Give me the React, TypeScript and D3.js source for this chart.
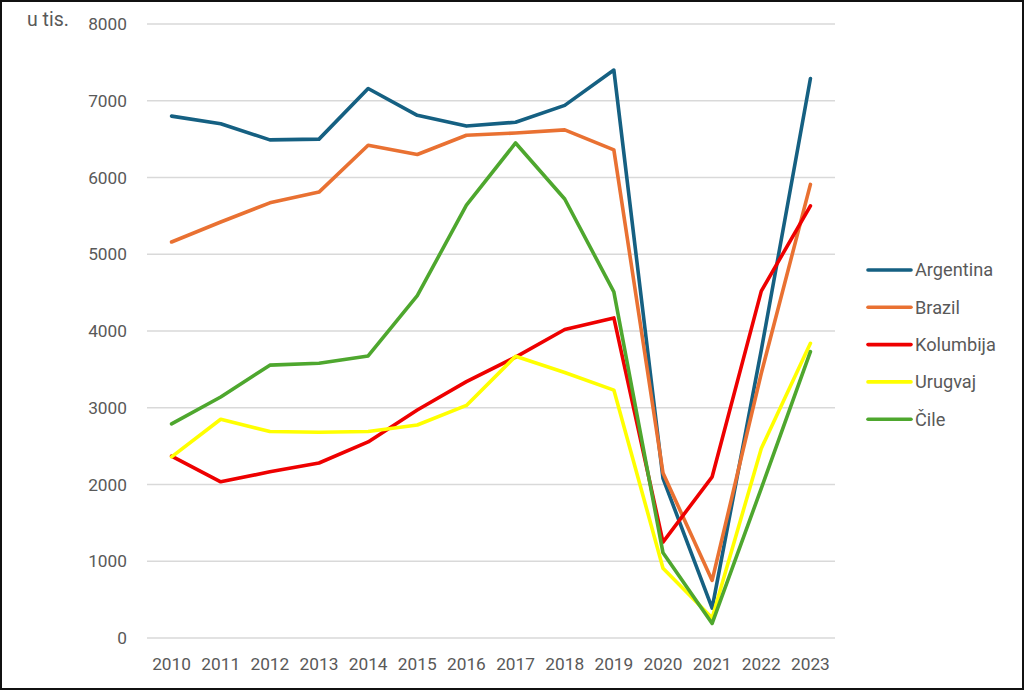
import React from "react";
import * as d3 from "d3";

const years = ["2010","2011","2012","2013","2014","2015","2016","2017","2018","2019","2020","2021","2022","2023"];
const seriesNames = ["Argentina","Brazil","Kolumbija","Urugvaj","Čile"];
const seriesColors = ["#156082","#E97132","#EE0000","#FFFF00","#4EA72E"];
const argentina = [6800,6700,6490,6500,7160,6810,6670,6720,6940,7400,2080,390,3750,7290];
const brazil = [5160,5420,5670,5810,6420,6300,6550,6580,6620,6360,2150,750,3450,5910];
const kolumbija = [2370,2035,2165,2280,2555,2970,3340,3660,4020,4170,1250,2100,4520,5630];
const urugvaj = [2360,2850,2690,2680,2690,2775,3030,3670,3460,3230,910,260,2470,3840];
const cile = [2790,3140,3555,3580,3675,4460,5640,6450,5720,4510,1110,190,1950,3730];
const yTicks = [0,1000,2000,3000,4000,5000,6000,7000,8000];
const allSeries = [argentina, brazil, kolumbija, urugvaj, cile];

export default function App() {
  const W = 1024, H = 690;
  const left = 147, right = 835, top = 24, bottom = 638;
  const x = d3.scaleBand<string>().domain(years).range([left, right]);
  const y = d3.scaleLinear().domain([0, 8000]).range([bottom, top]);
  const line = d3.line<number>()
    .x((_, i) => (x(years[i]) as number) + x.bandwidth() / 2)
    .y((d) => y(d));
  const font = "Roboto, 'Open Sans', sans-serif";
  const textColor = "#595959";
  return (
    <svg width={W} height={H} style={{ position: "absolute", left: 0, top: 0, background: "#fff" }} fontFamily={font}>
      <rect x={1} y={1} width={W - 2} height={H - 2} fill="#fff" stroke="#111" strokeWidth={2} />
      {yTicks.map((t) => (
        <g key={t}>
          <line x1={left} x2={right} y1={y(t)} y2={y(t)} stroke="#d9d9d9" strokeWidth={1.3} />
          <text x={127} y={y(t)} dy="0.35em" textAnchor="end" fontSize={17.3} fill={textColor}>{t}</text>
        </g>
      ))}
      <text x={27} y={24} dy="0.1em" fontSize={19.5} fill={textColor}>u tis.</text>
      {years.map((yr) => (
        <text key={yr} x={(x(yr) as number) + x.bandwidth() / 2} y={664} dy="0.35em" textAnchor="middle" fontSize={17.3} fill={textColor}>{yr}</text>
      ))}
      {allSeries.map((s, i) => (
        <path key={seriesNames[i]} d={line(s) || ""} fill="none" stroke={seriesColors[i]} strokeWidth={3.6} strokeLinejoin="round" strokeLinecap="round" />
      ))}
      {seriesNames.map((n, i) => {
        const ly = 270 + i * 37.3;
        return (
          <g key={n}>
            <line x1={868} x2={911} y1={ly} y2={ly} stroke={seriesColors[i]} strokeWidth={3.6} strokeLinecap="round" />
            <text x={915} y={ly} dy="0.35em" fontSize={18.2} fill={textColor}>{n}</text>
          </g>
        );
      })}
    </svg>
  );
}
